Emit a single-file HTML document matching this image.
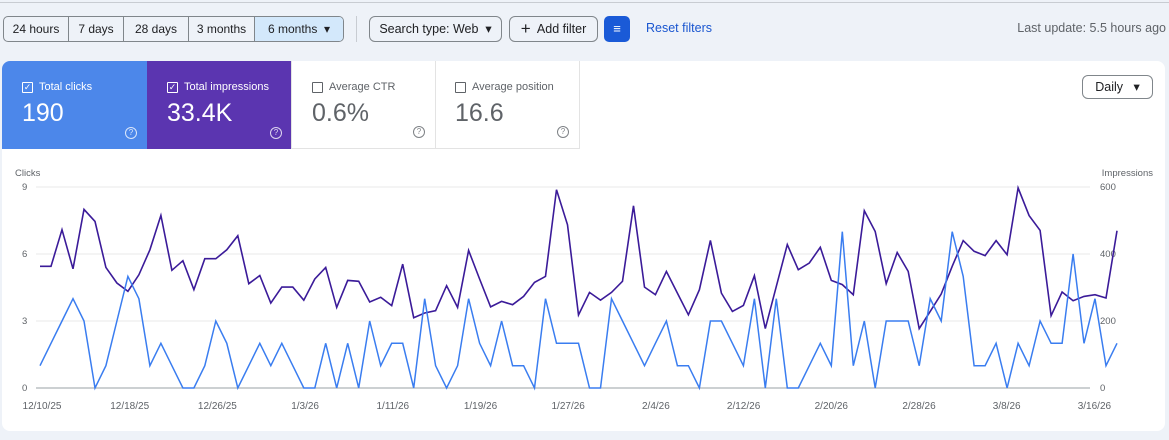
<!DOCTYPE html>
<html><head><meta charset="utf-8"><style>
*{box-sizing:border-box;margin:0;padding:0}
body{width:1169px;height:440px;background:#eef2f8;font-family:"Liberation Sans",sans-serif;position:relative;overflow:hidden;color:#3c4043}
.topline{position:absolute;left:0;top:0;width:1169px;height:3px;border-bottom:1px solid #c8ccd2}
.seg{position:absolute;top:16px;height:26px;border:1px solid #80868b;border-radius:5px;display:flex;overflow:hidden;left:3px;width:341px;background:#eef2f8}
.seg div{font-size:12px;line-height:24px;border-right:1px solid #80868b;color:#202124;text-align:center;flex:none}
.seg div:last-child{border-right:none;background:#d3e8fb;flex:1}
.btn{position:absolute;top:16px;height:26px;border:1px solid #80868b;border-radius:6px;font-size:12.5px;line-height:24px;color:#202124;text-align:center}
.card{position:absolute;left:2px;top:61px;width:1163px;height:370px;background:#fff;border-radius:8px}
.m{position:absolute;top:61px;height:88px;width:145px;padding:20px 0 0 20px}
.m .t{font-size:11px;display:flex;align-items:center}
.m .t i{display:inline-block;width:11px;height:11px;border:1.3px solid currentColor;border-radius:1px;margin-right:6px;font-style:normal;font-size:9px;line-height:9px;text-align:center}
.m .v{font-size:25px;margin-top:6px}
.m .q{position:absolute;right:10px;bottom:10px;width:12px;height:12px;border:1px solid currentColor;border-radius:50%;font-size:8px;text-align:center;line-height:10px;opacity:.8}
</style></head><body>
<div class="topline"></div>
<div class="seg"><div style="width:65px">24 hours</div><div style="width:55px">7 days</div><div style="width:65px">28 days</div><div style="width:66px">3 months</div><div>6 months &nbsp;▾</div></div>
<div style="position:absolute;left:356px;top:16px;width:1px;height:26px;background:#c8ccd2"></div>
<div class="btn" style="left:369px;width:133px">Search type: Web &nbsp;▾</div>
<div class="btn" style="left:509px;width:89px"><span style="font-size:17px;vertical-align:-1px">+</span>&nbsp; Add filter</div>
<div style="position:absolute;left:604px;top:16px;width:26px;height:26px;background:#1a5ad7;border-radius:5px;color:#fff;font-size:13px;text-align:center;line-height:25px">≡</div>
<div style="position:absolute;left:646px;top:21px;font-size:12.5px;color:#1a56d0">Reset filters</div>
<div style="position:absolute;right:3px;top:21px;font-size:12.5px;color:#5f6368">Last update: 5.5 hours ago</div>
<div class="card"></div>
<div class="m" style="left:2px;background:#4c87ea;color:#fff;border-radius:8px 0 0 0"><div class="t"><i>✓</i>Total clicks</div><div class="v">190</div><div class="q">?</div></div>
<div class="m" style="left:147px;background:#5b35b0;color:#fff"><div class="t"><i>✓</i>Total impressions</div><div class="v">33.4K</div><div class="q">?</div></div>
<div class="m" style="left:291px;color:#5f6368;border:1px solid #e3e3e3;border-top:none"><div class="t"><i></i>Average CTR</div><div class="v">0.6%</div><div class="q">?</div></div>
<div class="m" style="left:435px;color:#5f6368;border:1px solid #e3e3e3;border-top:none;border-left:none"><div class="t"><i></i>Average position</div><div class="v">16.6</div><div class="q">?</div></div>
<div class="btn" style="left:1082px;top:75px;width:71px;height:24px;line-height:22px;color:#202124">Daily &nbsp;&nbsp;▾</div>
<svg width="1169" height="440" style="position:absolute;left:0;top:0" font-family="Liberation Sans, sans-serif">
<g stroke="#eaeaea" stroke-width="1"><line x1="36" x2="1090" y1="187" y2="187"/><line x1="36" x2="1090" y1="254" y2="254"/><line x1="36" x2="1090" y1="321" y2="321"/></g>
<line x1="36" x2="1090" y1="388" y2="388" stroke="#9aa0a6"/>
<g font-size="9.5" fill="#5f6368"><text x="15" y="176">Clicks</text><text x="1153" y="176" text-anchor="end">Impressions</text>
<text x="22" y="190">9</text><text x="22" y="257">6</text><text x="22" y="324">3</text><text x="22" y="391">0</text>
<text x="1100" y="190">600</text><text x="1100" y="257">400</text><text x="1100" y="324">200</text><text x="1100" y="391">0</text></g>
<g font-size="10" fill="#5f6368" text-anchor="middle" id="dl"></g>
<polyline id="imp" fill="none" stroke="#3b1b99" stroke-width="1.6"/>
<polyline id="clk" fill="none" stroke="#3a7df0" stroke-width="1.5"/>
</svg>
<script>
var c=[1,2,3,4,3,0,1,3,5,4,1,2,1,0,0,1,3,2,0,1,2,1,2,1,0,0,2,0,2,0,3,1,2,2,0,4,1,0,1,4,2,1,3,1,1,0,4,2,2,2,0,0,4,3,2,1,2,3,1,1,0,3,3,2,1,4,0,4,0,0,1,2,1,7,1,3,0,3,3,3,1,4,3,7,5,1,1,2,0,2,1,3,2,2,6,2,4,1,2];
var m=[5.45,5.45,7.09,5.34,8.0,7.46,5.4,4.7,4.33,5.07,6.19,7.73,5.27,5.7,4.4,5.79,5.79,6.19,6.82,4.67,5.04,3.8,4.52,4.52,3.93,4.88,5.4,3.61,4.82,4.78,3.85,4.06,3.69,5.55,3.15,3.36,3.46,4.58,3.61,6.16,4.88,3.63,3.88,3.73,4.1,4.73,5.0,8.88,7.31,3.27,4.28,3.93,4.28,4.78,8.16,4.52,4.18,5.22,4.25,3.28,4.4,6.61,4.25,3.43,3.7,5.03,2.66,4.55,6.42,5.3,5.6,6.3,4.82,4.63,4.18,7.94,7.01,4.67,6.07,5.22,2.66,3.43,4.21,5.45,6.6,6.12,5.93,6.6,5.97,8.96,7.72,7.06,3.24,4.3,3.91,4.1,4.18,4.03,7.04];
function p(a){return a.map(function(v,i){return (40+i*10.99).toFixed(1)+','+(388-v*22.33).toFixed(1)}).join(' ')}
document.getElementById('clk').setAttribute('points',p(c));
document.getElementById('imp').setAttribute('points',p(m));
var d=['12/10/25','12/18/25','12/26/25','1/3/26','1/11/26','1/19/26','1/27/26','2/4/26','2/12/26','2/20/26','2/28/26','3/8/26','3/16/26'],s='';
d.forEach(function(t,i){s+='<text x="'+(42+i*87.7)+'" y="409">'+t+'</text>'});
document.getElementById('dl').innerHTML=s;
</script>
</body></html>
